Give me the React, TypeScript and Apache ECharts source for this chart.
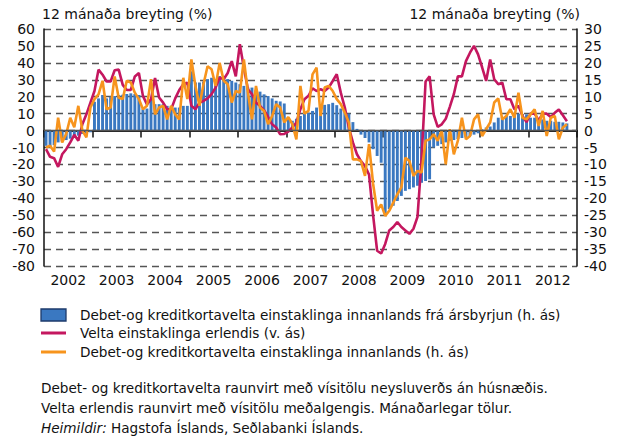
import React, { useEffect, useRef } from 'react';
import * as echarts from 'echarts';

const years = ['2002', '2003', '2004', '2005', '2006', '2007', '2008', '2009', '2010', '2011', '2012'];
const monthNames = ['01', '02', '03', '04', '05', '06', '07', '08', '09', '10', '11', '12'];
const months = years.flatMap((y) => monthNames.map((m) => `${y}-${m}`));

// Debet-og kreditkortavelta einstaklinga innanlands frá ársbyrjun (h. ás)
const ytdBars = [
  -4.5, -4.6, -4.3, -3.5, -3.2, -2.8, -2.4, -1.8, -1.5, -1, -0.8, -0.5,
  8.5, 9.5, 10.5, 9.5, 10, 10.2, 10.5, 10.6, 10.8, 11, 10.8, 10.5,
  6.3, 6.5, 9.3, 7.8, 7.8, 7.8, 7.3, 7.3, 6.8, 6.8, 7.3, 7.3,
  17.5, 14.2, 14.2, 14.5, 15.2, 15.6, 15.2, 16.1, 15.6, 15.2, 14.7, 14.2,
  13.7, 13.2, 12.7, 12.7, 12, 11.5, 10.7, 10.2, 9.5, 8.8, 8.6, 8,
  3.8, 2.9, 3.5, 4.3, 5, 5.3, 5.8, 6.8, 7.3, 7.6, 7.8, 8.2,
  7.5, 6.5, 5.5, 5, 2.5, 0.5, -1.2, -2.2, -3.5, -5.5, -7.5, -9.5,
  -24.7, -23.2, -22.2, -20.8, -19.3, -17.8, -17.3, -16.8, -16.3, -15.4, -14.9, -14.4,
  -5, -4.5, -4, -3.5, -3, -2.8, -2.5, -2.2, -2, -1.6, -1.2, -0.8,
  0.4, 0.9, 1.2, 2.4, 3.8, 4, 4.3, 4.3, 4.8, 5, 4.9, 4.8,
  3.8, 3.8, 3.3, 3.3, 2.9, 2.9, 2.6, 2.6, 2.4, 2.1,
];

// Velta einstaklinga erlendis (v. ás)
const veltaErlendis = [
  -11, -15.5, -16.3, -21.5, -14, -11, -7, -2.5, -6, 3.7, 9.6, 16.5,
  23.4, 36, 33, 29, 29, 35.6, 36, 27, 24, 24, 32, 34,
  20.5, 15.5, 18.5, 31, 19.5, 16.5, 12.6, 12.6, 19, 24, 27.4, 28.3,
  14.6, 12.6, 16.5, 17.5, 19, 21.5, 25.4, 31.3, 30.3, 34, 41, 32,
  51, 37, 24.4, 21.5, 16.5, 14.6, 12, 8, 3.7, 1.8, -2.2, -2,
  -0.6, 1.8, 4.7, 12.6, 18.5, 20.5, 25, 23.4, 24.4, 23.4, 25.4, 29.3,
  33.3, 22.4, 13.6, 1.8, -7, -14, -18, -21, -26, -50, -71, -72.6,
  -67, -59, -57, -54, -57, -59, -61, -58, -51, -17, 29, 32,
  9.6, 2.2, 3.7, 7, 14, 21.5, 32, 32, 41, 46, 50, 45,
  37.4, 29.3, 42, 30.3, 27.4, 28.3, 18.5, 18.5, 12.6, 14.6, 8.7, 5,
  10, 10, 6, 10, 10, 8, 10.5, 12.5, 9, 5.5,
];

// Debet-og kreditkortavelta einstaklinga innanlands (h. ás)
const veltaInnanlands = [
  -5, -4.5, -6.2, 3.8, -3.5, -1, 3.8, 1, 7.3, 0, -2, 6.8,
  9.3, 10.7, 14.7, 6.3, 6.8, 16, 9.7, 9.3, 14.7, 14.2, 11.2, 9.3,
  6.3, 7.3, 15.2, 4.8, 6.8, 7.3, 3.3, 7.3, 4.8, 3.3, 15.6, 9.3,
  21, 13.2, 7.3, 13.7, 19, 18.1, 13.2, 20, 14.7, 13.7, 8.3, 11.7,
  11.2, 21, 11.2, 3.3, 13.2, 6.8, 5.8, 1.9, 4.3, 7.8, 6.8, 2.4,
  4, 1.9, -2.6, 13.2, 5, 5.8, 16.6, 18.6, 4.3, 12.7, 13.2, 11.7,
  9.3, 7.8, 5.3, 2.4, -8.5, -8.5, -9, -13.4, -4, -15.7, -23.7, -21.8,
  -25.2, -23.7, -21.3, -18.8, -16.8, -8, -9, -13.4, -11.9, -12.4, -3, -2.6,
  -1.1, -3, 0.1, -10, 0.4, -7, -3, 3.8, -2.6, -1.6, 3.3, 4.8,
  -1.6, 0.4, 2.4, 8.3, 9.5, 3.3, 4.3, 6.3, 3.8, 11.2, 3.8, 3.3,
  4.8, 6.3, 1.4, 5.8, -1.6, 3.8, 4.3, -2.6, 0.9, 1.9,
];

const axisTitle = '12 mánaða breyting (%)';
const legendLabels = [
  'Debet-og kreditkortavelta einstaklinga innanlands frá ársbyrjun (h. ás)',
  'Velta einstaklinga erlendis (v. ás)',
  'Debet-og kreditkortavelta einstaklinga innanlands (h. ás)',
];
const notes = [
  'Debet- og kreditkortavelta raunvirt með vísitölu neysluverðs án húsnæðis.',
  'Velta erlendis raunvirt með vísitölu meðalgengis. Mánaðarlegar tölur.',
];
const sourceLabel = 'Heimildir:';
const sourceText = ' Hagstofa Íslands, Seðlabanki Íslands.';

const BLUE = '#3a78c1';
const MAGENTA = '#c4175f';
const ORANGE = '#f7941d';
const INK = '#111111';
const FONT = 'DejaVu Sans';

export default function App() {
  const ref = useRef<HTMLDivElement>(null);

  useEffect(() => {
    if (!ref.current) return;
    const chart = echarts.init(ref.current, undefined, { renderer: 'svg' });
    const axisLine = { show: true, lineStyle: { color: INK, width: 1.5 } };
    const tickText = { color: INK, fontSize: 14, fontFamily: FONT };
    const titleText = { color: INK, fontSize: 14, fontFamily: FONT };
    const legendText = { fontSize: 13.6, fontFamily: FONT, fill: INK, verticalAlign: 'middle', align: 'left' };

    chart.setOption({
      animation: false,
      textStyle: { fontFamily: FONT },
      grid: { left: 44, right: 40, top: 29, bottom: 176, containLabel: false },
      xAxis: [
        {
          type: 'category',
          data: months,
          position: 'top',
          boundaryGap: true,
          axisLine,
          axisTick: { show: false },
          axisLabel: { show: false },
          splitLine: { show: false },
        },
        {
          type: 'category',
          data: years,
          position: 'bottom',
          boundaryGap: true,
          axisLine,
          axisTick: { show: true, interval: 0, length: 7, lineStyle: { color: INK, width: 1.5 } },
          axisLabel: { ...tickText, interval: 0, margin: 7 },
          splitLine: { show: false },
        },
      ],
      yAxis: [
        {
          type: 'value',
          position: 'left',
          min: -80,
          max: 60,
          interval: 10,
          name: axisTitle,
          nameLocation: 'end',
          nameGap: 15,
          nameTextStyle: { ...titleText, align: 'left', verticalAlign: 'middle', padding: [0, 0, 0, -2] },
          axisLine,
          axisTick: { show: false },
          axisLabel: { ...tickText, margin: 9 },
          splitLine: { show: true, lineStyle: { color: '#555555', width: 1.3, type: [7, 5] } },
        },
        {
          type: 'value',
          position: 'right',
          min: -40,
          max: 30,
          interval: 5,
          name: axisTitle,
          nameLocation: 'end',
          nameGap: 15,
          nameTextStyle: { ...titleText, align: 'right', verticalAlign: 'middle', padding: [0, -3, 0, 0] },
          axisLine,
          axisTick: { show: false },
          axisLabel: { ...tickText, margin: 7 },
          splitLine: { show: false },
        },
      ],
      series: [
        {
          name: legendLabels[0],
          type: 'bar',
          xAxisIndex: 0,
          yAxisIndex: 1,
          data: ytdBars,
          barCategoryGap: '28%',
          itemStyle: { color: BLUE },
          markLine: {
            silent: true,
            symbol: ['none', 'none'],
            label: { show: false },
            lineStyle: { color: '#555555', width: 1.3, type: 'solid' },
            data: [{ yAxis: 0 }],
          },
        },
        {
          name: legendLabels[1],
          type: 'line',
          xAxisIndex: 0,
          yAxisIndex: 0,
          data: veltaErlendis,
          showSymbol: false,
          symbol: 'none',
          lineStyle: { color: MAGENTA, width: 2.6 },
          itemStyle: { color: MAGENTA },
        },
        {
          name: legendLabels[2],
          type: 'line',
          xAxisIndex: 0,
          yAxisIndex: 1,
          data: veltaInnanlands,
          showSymbol: false,
          symbol: 'none',
          lineStyle: { color: ORANGE, width: 2.6 },
          itemStyle: { color: ORANGE },
        },
      ],
      graphic: [
        { type: 'rect', shape: { x: 41, y: 309, width: 25, height: 12 }, style: { fill: BLUE, stroke: '#1d3a6b', lineWidth: 1.3 } },
        { type: 'text', x: 80, y: 315, style: { ...legendText, text: legendLabels[0] } },
        { type: 'line', shape: { x1: 41, y1: 333, x2: 66, y2: 333 }, style: { stroke: MAGENTA, lineWidth: 3 } },
        { type: 'text', x: 80, y: 333, style: { ...legendText, text: legendLabels[1] } },
        { type: 'line', shape: { x1: 41, y1: 352, x2: 66, y2: 352 }, style: { stroke: ORANGE, lineWidth: 3 } },
        { type: 'text', x: 80, y: 352, style: { ...legendText, text: legendLabels[2] } },
        { type: 'text', x: 41, y: 388, style: { ...legendText, text: notes[0] } },
        { type: 'text', x: 41, y: 408, style: { ...legendText, text: notes[1] } },
        {
          type: 'text',
          x: 41,
          y: 428,
          style: {
            ...legendText,
            text: `{i|${sourceLabel}}${sourceText}`,
            rich: { i: { fontStyle: 'italic', fontSize: 13.6, fontFamily: FONT, fill: INK } },
          },
        },
      ],
    });

    return () => chart.dispose();
  }, []);

  return <div ref={ref} style={{ position: 'absolute', left: 0, top: 0, width: 617, height: 442 }} />;
}
